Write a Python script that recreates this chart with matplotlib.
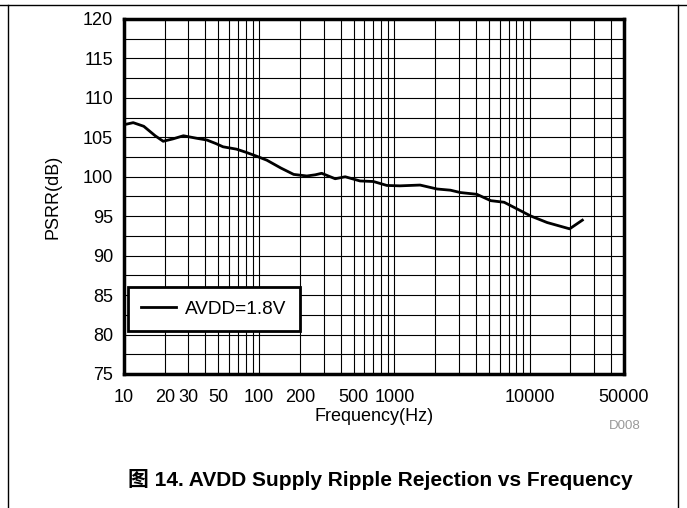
import numpy as np
import matplotlib.pyplot as plt
from matplotlib.lines import Line2D

plt.rcParams['font.family'] = ['Liberation Sans', 'Noto Sans CJK SC', 'DejaVu Sans']

# PSRR vs frequency
freq = [10, 11.7, 14, 17, 19.5, 23, 27.5, 34.5, 41, 48, 54, 68, 80, 96, 114, 145,
        180, 225, 260, 290, 365, 433, 557, 700, 880, 1100, 1550, 2070, 2600, 3080,
        4070, 5170, 6490, 8140, 10200, 13500, 19800, 24600]
psrr = [106.6, 106.86, 106.4, 105.2, 104.5, 104.8, 105.2, 104.88, 104.66, 104.2,
        103.8, 103.5, 103.1, 102.6, 102.1, 101.1, 100.3, 100.1, 100.25, 100.44,
        99.75, 100.0, 99.47, 99.4, 98.9, 98.85, 98.95, 98.45, 98.3, 98.0, 97.78,
        96.97, 96.77, 95.9, 95.03, 94.2, 93.4, 94.5]

xticks = [10, 20, 30, 50, 100, 200, 500, 1000, 10000, 50000]
yticks = [75, 80, 85, 90, 95, 100, 105, 110, 115, 120]

fig = plt.figure(figsize=(6.87, 5.08), dpi=100)
ax = fig.add_axes([0.1805, 0.2638, 0.7278, 0.6988])

ax.plot(freq, psrr, color='black', lw=2, label='AVDD=1.8V')

ax.set_xscale('log')
ax.set_xlim(10, 50000)
ax.set_ylim(75, 120)
ax.set_xticks(xticks)
ax.set_xticklabels([str(t) for t in xticks])
ax.set_yticks(yticks)
ax.set_yticks(np.arange(75, 120, 2.5), minor=True)
ax.tick_params(which='both', length=0, labelsize=13)
ax.tick_params(axis='x', pad=11)
ax.tick_params(axis='y', pad=8)
ax.grid(True, which='both', color='black', lw=0.8)
for s in ax.spines.values():
    s.set_linewidth(2.5)

ax.set_xlabel('Frequency(Hz)', fontsize=13, labelpad=1)
ax.set_ylabel('PSRR(dB)', fontsize=13, labelpad=15)

leg = ax.legend(loc='lower left', fontsize=13.7, fancybox=False, framealpha=1,
                edgecolor='black', borderpad=0.7, handlelength=1.8,
                handletextpad=0.5, borderaxespad=0,
                bbox_to_anchor=(0.008, 0.121))
leg.get_frame().set_linewidth(2)

fig.text(0.932, 0.155, 'D008', fontsize=9.5, color='#999999', ha='right')
fig.text(0.553, 0.043, '图 14. AVDD Supply Ripple Rejection vs Frequency',
         fontsize=15, fontweight='bold', ha='center')

# page frame
fig.add_artist(Line2D([0, 1], [1 - 5 / 508, 1 - 5 / 508], color='black', lw=1))
fig.add_artist(Line2D([8 / 687, 8 / 687], [0, 1 - 5 / 508], color='black', lw=1))
fig.add_artist(Line2D([678 / 687, 678 / 687], [0, 1 - 5 / 508], color='black', lw=1))

fig.savefig('out.png', dpi=100)
